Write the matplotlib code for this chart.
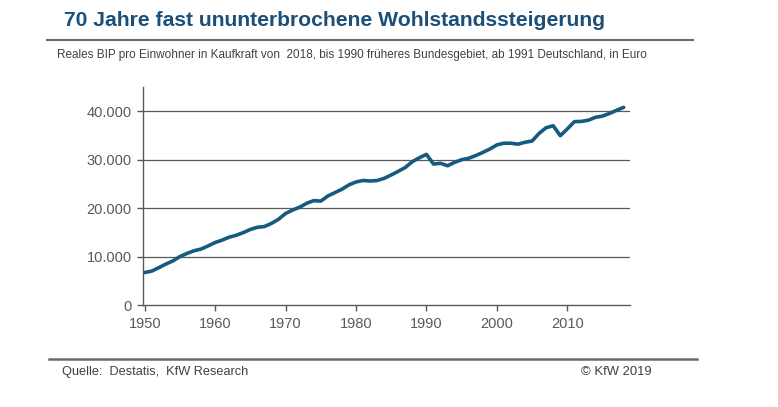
import matplotlib

matplotlib.use("Agg")

import matplotlib.pyplot as plt
from matplotlib.lines import Line2D
from matplotlib.ticker import FuncFormatter

TITLE_CLR = "#1b4f78"
LINE_CLR = "#175a80"
AXIS_CLR = "#595959"
RULE_CLR = "#6a6a6a"
FONT = ["Liberation Sans", "DejaVu Sans"]

years = list(range(1950, 2019))
bip = [
    6700, 7000, 7700, 8450, 9100, 10000, 10650, 11200, 11550, 12200,
    12900, 13400, 14000, 14400, 14950, 15600, 16050, 16200, 16850, 17700,
    18900, 19600, 20200, 21000, 21550, 21450, 22500, 23200, 23900, 24800,
    25400, 25700, 25600, 25700, 26150, 26850, 27600, 28400, 29600, 30400,
    31100, 29100, 29250, 28750, 29450, 30000, 30300, 30850, 31500, 32200,
    33050, 33400, 33400, 33200, 33600, 33850, 35450, 36600, 37000, 34950,
    36350, 37850, 37900, 38150, 38750, 39000, 39550, 40200, 40800,
]
y_ticks = [0, 10000, 20000, 30000, 40000]
x_ticks = [1950, 1960, 1970, 1980, 1990, 2000, 2010]

fig = plt.figure(figsize=(7.78, 4.07), dpi=100, facecolor="white")
ax = fig.add_axes([0.1842, 0.2506, 0.8098 - 0.1842, 0.7862 - 0.2506])

ax.plot(years, bip, color=LINE_CLR, linewidth=2.6, solid_joinstyle="round", solid_capstyle="round", zorder=3)

ax.set_xlim(1949.8, 2018.9)
ax.set_ylim(0, 45000)
ax.set_xticks(x_ticks)
ax.set_yticks(y_ticks)
ax.yaxis.set_major_formatter(FuncFormatter(lambda v, p: "0" if v == 0 else f"{int(v):,}".replace(",", ".")))

for yv in y_ticks[1:]:
    ax.axhline(yv, color=AXIS_CLR, linewidth=0.9, zorder=1)

for side in ("top", "right"):
    ax.spines[side].set_visible(False)
for side in ("left", "bottom"):
    ax.spines[side].set_color(AXIS_CLR)
    ax.spines[side].set_linewidth(1.0)

ax.tick_params(axis="both", colors=AXIS_CLR, labelcolor=AXIS_CLR, labelsize=10.5, length=4.5, width=1.0, direction="out", pad=4)
for lbl in ax.get_xticklabels() + ax.get_yticklabels():
    lbl.set_family(FONT)

# header and footer
fig.text(64 / 778, 1 - 26 / 407, "70 Jahre fast ununterbrochene Wohlstandssteigerung",
         fontsize=15.2, fontweight="bold", color=TITLE_CLR, family=FONT, va="baseline", ha="left")
fig.add_artist(Line2D([47 / 778, 693 / 778], [1 - 40.3 / 407] * 2, color=RULE_CLR, linewidth=1.5, transform=fig.transFigure))
fig.text(57 / 778, 1 - 55 / 407,
         "Reales BIP pro Einwohner in Kaufkraft von  2018, bis 1990 früheres Bundesgebiet, ab 1991 Deutschland, in Euro",
         fontsize=8.45, color="#404040", family=FONT, va="center", ha="left")

fig.add_artist(Line2D([49 / 778, 697 / 778], [1 - 359 / 407] * 2, color=RULE_CLR, linewidth=1.8, transform=fig.transFigure))
fig.text(62 / 778, 1 - 372 / 407, "Quelle:  Destatis,  KfW Research",
         fontsize=9.2, color="#404040", family=FONT, va="center", ha="left")
fig.text(652 / 778, 1 - 372 / 407, "© KfW 2019",
         fontsize=9.4, color="#404040", family=FONT, va="center", ha="right")

fig.savefig("out.png", dpi=100, facecolor="white")
